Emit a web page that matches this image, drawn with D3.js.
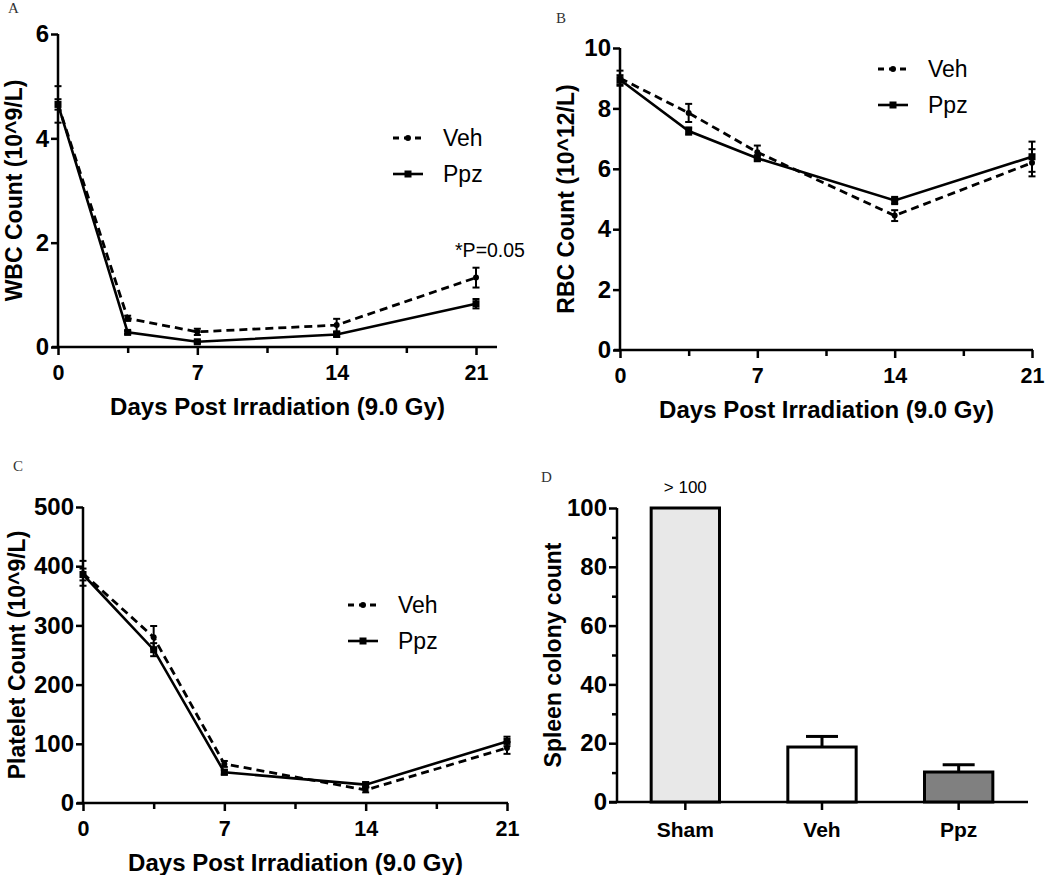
<!DOCTYPE html>
<html>
<head>
<meta charset="utf-8">
<script src="https://cdn.jsdelivr.net/npm/d3@7"></script>
<style>
  html, body { margin: 0; padding: 0; background: #fff; }
  svg { display: block; }
  text { font-family: "Liberation Sans", Arial, sans-serif; }
</style>
</head>
<body>
<svg id="chart" width="1050" height="875"></svg>
<script>
// ---------------- data ----------------
const days = [0, 3.5, 7, 14, 21];
const dayTicks = [0, 7, 14, 21];
const dayMinorTicks = [3.5, 10.5, 17.5];
const seriesNames = ["Veh", "Ppz"];

const wbcVeh = [4.65, 0.55, 0.29, 0.42, 1.33];
const wbcVehErr = [0.35, 0.05, 0.06, 0.12, 0.19];
const wbcPpz = [4.65, 0.28, 0.10, 0.24, 0.83];
const wbcPpzErr = [0.10, 0.03, 0.03, 0.04, 0.09];
const wbcTicks = [0, 2, 4, 6];

const rbcVeh = [9.0, 7.85, 6.55, 4.45, 6.2];
const rbcVehErr = [0.25, 0.30, 0.22, 0.18, 0.45];
const rbcPpz = [8.95, 7.25, 6.35, 4.95, 6.4];
const rbcPpzErr = [0.15, 0.12, 0.10, 0.12, 0.50];
const rbcTicks = [0, 2, 4, 6, 8, 10];

const pltVeh = [388, 280, 66, 22, 93];
const pltVehErr = [21, 19, 5, 4, 10];
const pltPpz = [386, 259, 52, 31, 104];
const pltPpzErr = [10, 11, 4, 4, 8];
const pltTicks = [0, 100, 200, 300, 400, 500];

const spleenGroups = ["Sham", "Veh", "Ppz"];
const spleenValues = [100, 18.7, 10.2];
const spleenErr = [0, 3.6, 2.5];
const spleenTicks = [0, 20, 40, 60, 80, 100];
const spleenMinorTicks = [10, 30, 50, 70, 90];
const spleenNote = "> 100";

const xTitle = "Days Post Irradiation (9.0 Gy)";

// ---------------- drawing ----------------
const svg = d3.select("#chart");

function styleAxis(g, fs) {
  g.selectAll(".domain").remove();
  g.selectAll(".tick line").attr("stroke", "#000").attr("stroke-width", 2.5);
  g.selectAll(".tick text")
    .attr("fill", "#000")
    .style("font-family", "'Liberation Sans', Arial, sans-serif")
    .style("font-weight", "bold")
    .style("font-size", (fs || 21) + "px");
}

function linePanel(cfg) {
  const g = svg.append("g");
  const x = d3.scaleLinear().domain([0, 21]).range([cfg.x0, cfg.x1]);
  const y = d3.scaleLinear().domain([0, cfg.ymax]).range([cfg.yb, cfg.yt]);

  // axes
  const ya = g.append("g").attr("transform", `translate(${cfg.x0},0)`)
    .call(d3.axisLeft(y).tickValues(cfg.yticks).tickSize(7).tickPadding(2).tickFormat(d3.format("d")));
  styleAxis(ya, 24);
  const xa = g.append("g").attr("transform", `translate(0,${cfg.yb})`)
    .call(d3.axisBottom(x).tickValues(dayTicks).tickSize(8).tickPadding(5).tickFormat(d3.format("d")));
  styleAxis(xa, 21.5);
  xa.selectAll(".tick text").attr("dy", "0.95em");
  const xm = g.append("g").attr("transform", `translate(0,${cfg.yb})`)
    .call(d3.axisBottom(x).tickValues(dayMinorTicks).tickSize(6).tickFormat(""));
  styleAxis(xm);
  g.append("line").attr("x1", cfg.x0).attr("x2", cfg.x0).attr("y1", cfg.yt).attr("y2", cfg.yb + 1)
    .attr("stroke", "#000").attr("stroke-width", 2.5);
  g.append("line").attr("x1", cfg.x0 - 6).attr("x2", cfg.xAxisEnd).attr("y1", cfg.yb).attr("y2", cfg.yb)
    .attr("stroke", "#000").attr("stroke-width", 2.5);

  // titles
  g.append("text").attr("x", (cfg.x0 + cfg.xAxisEnd) / 2).attr("y", cfg.yb + 68)
    .attr("text-anchor", "middle").style("font-weight", "bold").style("font-size", "24px")
    .text(xTitle);
  g.append("text").attr("transform", `translate(${cfg.ytX},${(cfg.yt + cfg.yb) / 2}) rotate(-90)`)
    .attr("text-anchor", "middle").attr("dy", "0.35em").style("font-weight", "bold").style("font-size", "23px")
    .text(cfg.ytitle);
  g.append("text").attr("x", cfg.labX).attr("y", cfg.labY).text(cfg.label)
    .style("font-family", "'Liberation Serif', 'DejaVu Serif', serif").style("font-size", "15px").attr("fill", "#333");

  const series = [
    { name: seriesNames[0], v: cfg.veh, e: cfg.vehErr, dash: "8,5", w: 2.8, marker: "circle" },
    { name: seriesNames[1], v: cfg.ppz, e: cfg.ppzErr, dash: null, w: 2.6, marker: "square" }
  ];
  const line = d3.line().x(d => x(d[0])).y(d => y(d[1]));
  series.slice().reverse().forEach(s => {
    const pts = days.map((d, i) => [d, s.v[i], s.e[i]]);
    g.append("path").datum(pts).attr("d", line).attr("fill", "none").attr("stroke", "#000")
      .attr("stroke-width", s.w).attr("stroke-dasharray", s.dash);
    // error bars
    pts.forEach(p => {
      const cx = x(p[0]);
      const top = y(p[1] + p[2]), bot = y(p[1] - p[2]);
      g.append("line").attr("x1", cx).attr("x2", cx).attr("y1", top).attr("y2", bot)
        .attr("stroke", "#000").attr("stroke-width", 2);
      [top, bot].forEach(yy => g.append("line").attr("x1", cx - 3.5).attr("x2", cx + 3.5)
        .attr("y1", yy).attr("y2", yy).attr("stroke", "#000").attr("stroke-width", 2));
      if (s.marker === "circle") {
        g.append("circle").attr("cx", cx).attr("cy", y(p[1])).attr("r", 3).attr("fill", "#000");
      } else {
        g.append("rect").attr("x", cx - 3.5).attr("y", y(p[1]) - 3.5).attr("width", 7).attr("height", 7).attr("fill", "#000");
      }
    });
  });

  // legend
  series.forEach((s, i) => {
    const ly = cfg.legY + i * 36;
    g.append("line").attr("x1", cfg.legX).attr("x2", cfg.legX + 30).attr("y1", ly).attr("y2", ly)
      .attr("stroke", "#000").attr("stroke-width", s.w).attr("stroke-dasharray", s.dash ? "6,5" : null);
    if (s.marker === "circle") {
      g.append("circle").attr("cx", cfg.legX + 15).attr("cy", ly).attr("r", 3).attr("fill", "#000");
    } else {
      g.append("rect").attr("x", cfg.legX + 11.5).attr("y", ly - 3.5).attr("width", 7).attr("height", 7).attr("fill", "#000");
    }
    g.append("text").attr("x", cfg.legX + 50).attr("y", ly).attr("dy", "0.35em")
      .style("font-size", "23px").text(s.name);
  });
  return { g, x, y };
}

// Panel A
const pA = linePanel({
  x0: 58, x1: 476, xAxisEnd: 497, yb: 347, yt: 34, ymax: 6, yticks: wbcTicks,
  veh: wbcVeh, vehErr: wbcVehErr, ppz: wbcPpz, ppzErr: wbcPpzErr,
  ytitle: "WBC Count (10^9/L)", ytX: 14, label: "A", labX: 8, labY: 13,
  legX: 393, legY: 138
});
pA.g.append("text").attr("x", pA.x(21) + 14).attr("y", 257).attr("text-anchor", "middle")
  .style("font-size", "19.5px").text("*P=0.05");

// Panel B
linePanel({
  x0: 620, x1: 1032, xAxisEnd: 1033, yb: 350, yt: 48, ymax: 10, yticks: rbcTicks,
  veh: rbcVeh, vehErr: rbcVehErr, ppz: rbcPpz, ppzErr: rbcPpzErr,
  ytitle: "RBC Count (10^12/L)", ytX: 566, label: "B", labX: 556, labY: 23,
  legX: 878, legY: 69
});

// Panel C
linePanel({
  x0: 83, x1: 507, xAxisEnd: 508, yb: 803, yt: 507, ymax: 500, yticks: pltTicks,
  veh: pltVeh, vehErr: pltVehErr, ppz: pltPpz, ppzErr: pltPpzErr,
  ytitle: "Platelet Count (10^9/L)", ytX: 17, label: "C", labX: 13, labY: 471,
  legX: 348, legY: 605
});

// Panel D (bars)
(function () {
  const g = svg.append("g");
  const x0 = 617, xEnd = 1028, yb = 802, yt = 508;
  const x = d3.scaleBand().domain(spleenGroups).range([617, 1027]).paddingInner(0.5).paddingOuter(0.25);
  const y = d3.scaleLinear().domain([0, 100]).range([yb, yt]);
  const fills = ["#e8e8e8", "#ffffff", "#808080"];

  const ya = g.append("g").attr("transform", `translate(${x0},0)`)
    .call(d3.axisLeft(y).tickValues(spleenTicks).tickSize(8).tickPadding(2));
  styleAxis(ya, 24);
  const ym = g.append("g").attr("transform", `translate(${x0},0)`)
    .call(d3.axisLeft(y).tickValues(spleenMinorTicks).tickSize(5).tickFormat(""));
  styleAxis(ym);
  const xa = g.append("g").attr("transform", `translate(0,${yb})`)
    .call(d3.axisBottom(x).tickSize(8).tickPadding(7));
  styleAxis(xa, 21);
  xa.selectAll(".tick text").attr("dy", "0.95em");
  g.append("line").attr("x1", x0).attr("x2", x0).attr("y1", yt).attr("y2", yb + 1)
    .attr("stroke", "#000").attr("stroke-width", 2.5);
  g.append("line").attr("x1", x0 - 8).attr("x2", xEnd).attr("y1", yb).attr("y2", yb)
    .attr("stroke", "#000").attr("stroke-width", 2.5);

  spleenGroups.forEach((k, i) => {
    const bx = x(k), bw = x.bandwidth(), cx = bx + bw / 2;
    if (spleenErr[i] > 0) {
      const ty = y(spleenValues[i] + spleenErr[i]);
      g.append("line").attr("x1", cx).attr("x2", cx).attr("y1", ty).attr("y2", y(spleenValues[i]))
        .attr("stroke", "#000").attr("stroke-width", 3);
      g.append("line").attr("x1", cx - 16).attr("x2", cx + 16).attr("y1", ty).attr("y2", ty)
        .attr("stroke", "#000").attr("stroke-width", 3);
    }
    g.append("rect").attr("x", bx).attr("y", y(spleenValues[i])).attr("width", bw)
      .attr("height", yb - y(spleenValues[i])).attr("fill", fills[i]).attr("stroke", "#000").attr("stroke-width", 3);
  });
  g.append("text").attr("x", x(spleenGroups[0]) + x.bandwidth() / 2).attr("y", 493)
    .attr("text-anchor", "middle").style("font-size", "17px").text(spleenNote);
  g.append("text").attr("transform", `translate(553,${(yt + yb) / 2}) rotate(-90)`)
    .attr("text-anchor", "middle").attr("dy", "0.35em").style("font-weight", "bold").style("font-size", "23px")
    .text("Spleen colony count");
  g.append("text").attr("x", 541).attr("y", 482).text("D")
    .style("font-family", "'Liberation Serif', 'DejaVu Serif', serif").style("font-size", "15px").attr("fill", "#333");
})();
</script>
</body>
</html>
